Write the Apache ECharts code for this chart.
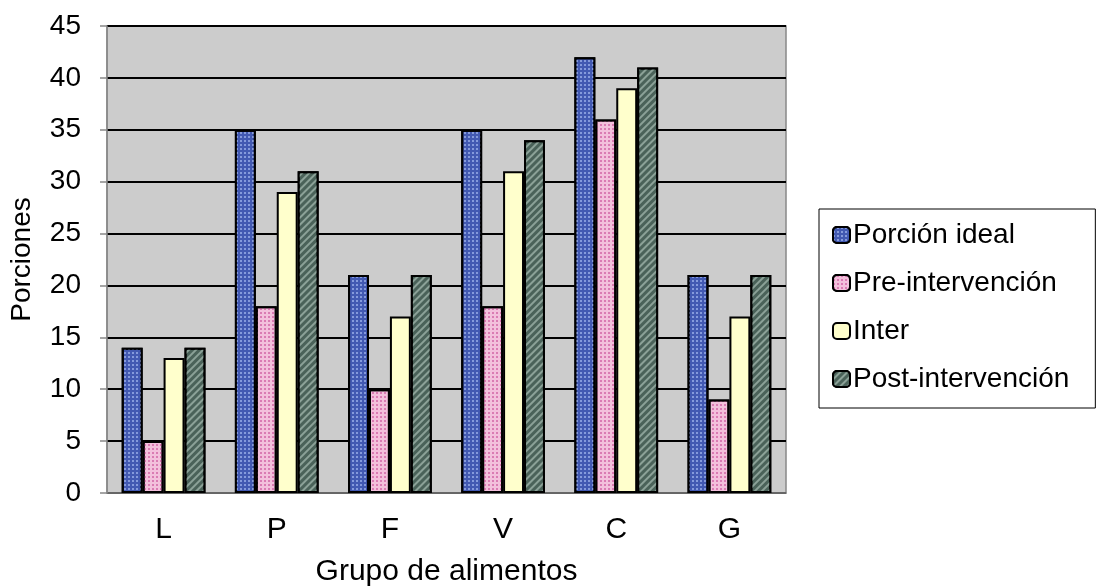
<!DOCTYPE html>
<html><head><meta charset="utf-8">
<script src="https://cdn.jsdelivr.net/npm/echarts@6/dist/echarts.min.js"></script>
<style>html,body{margin:0;padding:0;background:#fff}#c{width:1096px;height:588px}</style>
</head><body><div id="c"></div>
<script>
const categories = ['L','P','F','V','C','G'];
const seriesNames = ['Porción ideal','Pre-intervención','Inter','Post-intervención'];
const porcionIdeal = [14,35,21,35,42,21];
const preIntervencion = [5,18,10,18,36,9];
const inter = [13,29,17,31,39,17];
const postIntervencion = [14,31,21,34,41,21];
const yTicks = [0,5,10,15,20,25,30,35,40,45];

const styles = [
  {color:'#4259b2', decal:{symbol:'rect', color:'rgba(150,170,230,0.8)', dashArrayX:[2,2], dashArrayY:[2,2], symbolSize:1}},
  {color:'#f3c0dc', decal:{symbol:'rect', color:'rgba(210,100,165,0.75)', dashArrayX:[2,2], dashArrayY:[2,2], symbolSize:1}},
  {color:'#ffffcc', decal:null},
  {color:'#4a6259', decal:{symbol:'rect', color:'rgba(160,182,172,0.75)', dashArrayX:[[1,0]], dashArrayY:[2,3], rotation:-Math.PI/4, symbolSize:1}}
];
const dataArr = [porcionIdeal, preIntervencion, inter, postIntervencion];
const font = 'Liberation Sans, Arial, sans-serif';

const chart = echarts.init(document.getElementById('c'));
chart.setOption({
  animation:false,
  textStyle:{fontFamily:font},
  grid:{left:107, top:26, right:310, bottom:95, containLabel:false, outerBoundsMode:'none',
        show:true, backgroundColor:'#cccccc', borderColor:'#888888', borderWidth:1.5},
  legend:{
    orient:'vertical', left:819, top:209,
    padding:[12,26,15,13], itemGap:20, itemWidth:17, itemHeight:16,
    backgroundColor:'#ffffff', borderColor:'#000000', borderWidth:1,
    textStyle:{fontSize:28, color:'#000', fontFamily:font, padding:[0,0,0,-2]},
    data:seriesNames
  },
  xAxis:{
    type:'category', data:categories,
    name:'Grupo de alimentos', nameLocation:'middle', nameGap:64,
    nameTextStyle:{fontSize:30, color:'#000', fontFamily:font},
    axisLine:{lineStyle:{color:'#888888', width:1.5}},
    axisTick:{show:false},
    axisLabel:{fontSize:30, color:'#000', margin:22, fontFamily:font}
  },
  yAxis:{
    type:'value', min:0, max:45, interval:5,
    name:'Porciones', nameLocation:'middle', nameGap:71,
    nameTextStyle:{fontSize:28, color:'#000', fontFamily:font},
    axisLine:{show:true, lineStyle:{color:'#888888', width:1.5}},
    axisTick:{show:true, length:7, lineStyle:{color:'#888888', width:1.5}},
    axisLabel:{fontSize:28, color:'#000', margin:26, fontFamily:font,
      formatter:function(v){return yTicks.indexOf(v)>=0 ? String(v) : '';}},
    splitLine:{lineStyle:{color:'#000000', width:2}}
  },
  series: seriesNames.map(function(n,i){
    return {
      name:n, type:'bar', data:dataArr[i], barGap:'0%', barCategoryGap:'26%',
      itemStyle:{color:styles[i].color, borderColor:'#000', borderWidth:2, decal:styles[i].decal}
    };
  })
});
</script></body></html>
